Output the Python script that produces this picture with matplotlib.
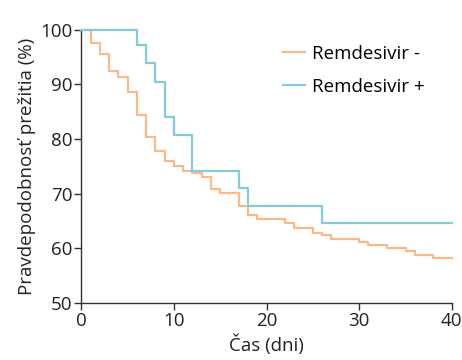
"""
Kaplan-Meier survival curves, Remdesivir - / Remdesivir +.
"""

import matplotlib
matplotlib.use("Agg")
import matplotlib.pyplot as plt

# ── Data ─────────────────────────────────────────────────────────
time_neg = [0, 1, 2, 3, 4, 5, 6, 7, 8, 9, 10, 11, 12, 13, 14, 15, 17, 18, 19,
            22, 23, 25, 26, 27, 30, 31, 33, 35, 36, 38, 40]
surv_neg = [100, 97.5, 95.6, 92.5, 91.4, 88.6, 84.4, 80.3, 77.8, 76.0, 75.0,
            74.2, 73.7, 73.0, 70.8, 70.1, 67.7, 66.1, 65.3, 64.7, 63.7, 62.9,
            62.4, 61.8, 61.1, 60.6, 60.0, 59.5, 58.8, 58.3, 58.3]

time_pos = [0, 6, 7, 8, 9, 10, 12, 17, 18, 26, 40]
surv_pos = [100, 97.2, 93.8, 90.5, 84.0, 80.7, 74.2, 71.0, 67.7, 64.6, 64.6]

labels = ["Remdesivir -", "Remdesivir +"]
colors = ["#F9B98A", "#86C9D8"]

x_ticks = [0, 10, 20, 30, 40]
y_ticks = [50, 60, 70, 80, 90, 100]

plt.rcParams["font.family"] = ["Open Sans", "DejaVu Sans"]
plt.rcParams["font.size"] = 13.5


def main():
    fig = plt.figure(figsize=(4.62, 3.6), dpi=100)
    ax = fig.add_axes([0.176, 0.158, 0.802, 0.76])

    ax.step(time_neg, surv_neg, where="post", color=colors[0], lw=1.6,
            label=labels[0], clip_on=False, zorder=2)
    ax.step(time_pos, surv_pos, where="post", color=colors[1], lw=1.6,
            label=labels[1], clip_on=False, zorder=3)

    ax.set_xlim(0, 40)
    ax.set_ylim(50, 100)
    ax.set_xticks(x_ticks)
    ax.set_yticks(y_ticks)
    ax.tick_params(direction="out", length=5, width=1, color="#333333",
                   labelcolor="#222222", pad=1.5)
    ax.set_xlabel("Čas (dni)", color="#222222", labelpad=3)
    ax.set_ylabel("Pravdepodobnosť prežitia (%)", color="#222222", labelpad=3)

    for side in ["top", "right"]:
        ax.spines[side].set_visible(False)
    for side in ["left", "bottom"]:
        ax.spines[side].set_color("#333333")
        ax.spines[side].set_linewidth(1)

    ax.legend(loc="upper left", bbox_to_anchor=(0.498, 1.005), frameon=False,
              handlelength=1.17, handletextpad=0.4, labelspacing=0.8)

    fig.savefig("out.png", dpi=100)


if __name__ == "__main__":
    main()
